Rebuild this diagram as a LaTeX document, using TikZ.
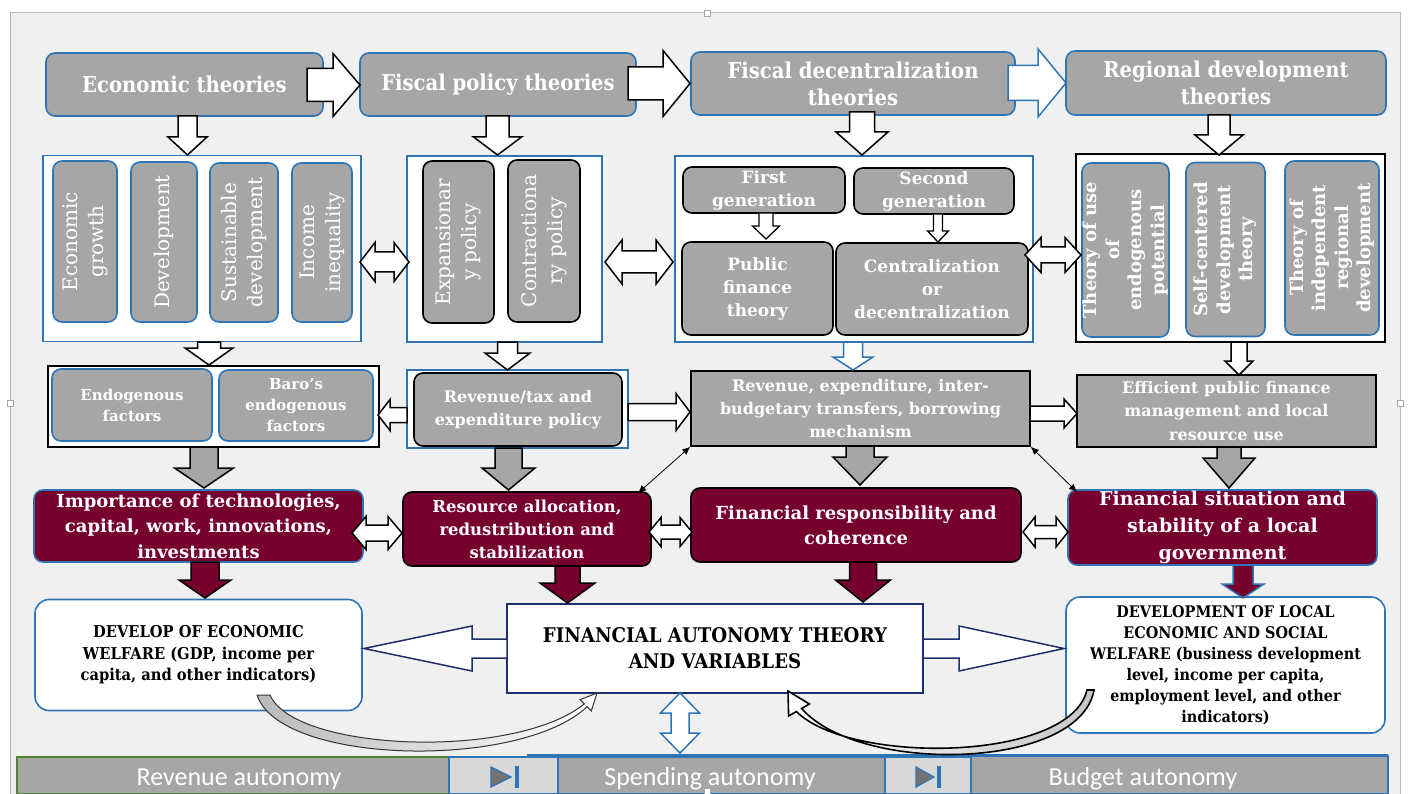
\documentclass[tikz,border=0pt]{standalone}
\usepackage{fontspec}
\setmainfont{DejaVu Serif}
\newfontfamily\dvc[FakeStretch=0.9]{DejaVu Serif}
\newfontfamily\carl{Carlito}
\usetikzlibrary{arrows.meta}
\definecolor{bblue}{RGB}{46,117,182}
\definecolor{boxgray}{RGB}{166,166,166}
\definecolor{maroonc}{RGB}{118,0,46}
\definecolor{navyc}{RGB}{28,48,110}
\definecolor{panelc}{RGB}{240,240,240}
\definecolor{cellc}{RGB}{216,216,216}
\definecolor{greenc}{RGB}{84,130,53}
\newcommand\fs[2]{\fontsize{#1}{#2}\selectfont}
% vertical block arrow: style, cx, ystart, yhead, ytip, shaft half, head half
\newcommand\varr[7]{\draw[#1] ({#2-#6},#3) -- ({#2-#6},#4) -- ({#2-#7},#4) -- (#2,#5) -- ({#2+#7},#4) -- ({#2+#6},#4) -- ({#2+#6},#3) -- cycle;}
% horizontal block arrow: style, cy, xstart, xhead, xtip, shaft half, head half
\newcommand\harr[7]{\draw[#1] (#3,{#2-#6}) -- (#4,{#2-#6}) -- (#4,{#2-#7}) -- (#5,#2) -- (#4,{#2+#7}) -- (#4,{#2+#6}) -- (#3,{#2+#6}) -- cycle;}
% horizontal double arrow: style, cy, xl, xr, headlen, shaft half, head half
\newcommand\hdarr[7]{\draw[#1] (#3,#2) -- ({#3+#5},{#2-#7}) -- ({#3+#5},{#2-#6}) -- ({#4-#5},{#2-#6}) -- ({#4-#5},{#2-#7}) -- (#4,#2) -- ({#4-#5},{#2+#7}) -- ({#4-#5},{#2+#6}) -- ({#3+#5},{#2+#6}) -- ({#3+#5},{#2+#7}) -- cycle;}
% vertical double arrow: style, cx, ytop, ybot, headlen, shaft half, head half
\newcommand\vdarr[7]{\draw[#1] (#2,#3) -- ({#2+#7},{#3+#5}) -- ({#2+#6},{#3+#5}) -- ({#2+#6},{#4-#5}) -- ({#2+#7},{#4-#5}) -- (#2,#4) -- ({#2-#7},{#4-#5}) -- ({#2-#6},{#4-#5}) -- ({#2-#6},{#3+#5}) -- ({#2-#7},{#3+#5}) -- cycle;}
\tikzset{
  bx/.style={inner sep=0pt, align=center, text=white},
  gbox/.style={bx, fill=boxgray, draw=bblue, line width=1.6pt, rounded corners=9pt},
  gboxk/.style={bx, fill=boxgray, draw=black, line width=1.6pt, rounded corners=9pt},
  gsq/.style={bx, fill=boxgray, draw=black, line width=1.6pt},
  mbox/.style={bx, fill=maroonc, draw=bblue, line width=1.6pt, rounded corners=9pt},
  mboxk/.style={bx, fill=maroonc, draw=black, line width=1.6pt, rounded corners=9pt},
  contb/.style={fill=white, draw=bblue, line width=1.6pt, inner sep=0pt},
  contk/.style={fill=white, draw=black, line width=2pt, inner sep=0pt},
  wbox/.style={fill=white, draw=bblue, line width=1.6pt, rounded corners=14pt, text=black, align=center, inner sep=0pt},
  ttl/.style={font=\dvc\bfseries\fs{21.8}{27}},
  vreg/.style={rotate=90, font=\fs{20}{26}},
  vbold/.style={rotate=90, font=\bfseries\fs{18}{22.5}},
  arw/.style={fill=white, draw=black, line width=1.5pt},
  arwb/.style={fill=white, draw=bblue, line width=1.5pt},
  arwn/.style={fill=white, draw=navyc, line width=1.5pt},
  arwg/.style={fill=boxgray, draw=black, line width=1.5pt},
  arwm/.style={fill=maroonc, draw=black, line width=1.5pt},
  arwmb/.style={fill=maroonc, draw=bblue, line width=1.5pt},
  thin/.style={draw=black, line width=0.8pt, {Latex[length=8pt,width=7pt]}-{Latex[length=8pt,width=7pt]}},
  handle/.style={fill=white, draw=gray!70, line width=0.6pt},
  seg/.style={fill=boxgray, draw=bblue, line width=1.5pt, inner sep=0pt},
  segtxt/.style={text=white, font=\carl\fs{26}{30}, anchor=base, inner sep=0pt},
}
\begin{document}
\begin{tikzpicture}[x=1pt,y=-1pt]
\useasboundingbox (0,0) rectangle (1408,794);
\fill[white] (0,0) rectangle (1408,794);
\draw[fill=panelc, draw=gray!55, line width=1pt] (10,13) rectangle (1400,800);

% ---------- row 1 ----------
\node[gbox, ttl, minimum width=277pt, minimum height=63pt] (econ) at (184.5,84.5) {Economic theories};
\node[gbox, ttl, minimum width=276pt, minimum height=63pt] (fisc) at (498,84.5) {Fiscal policy theories};
\node[gbox, ttl, minimum width=324pt, minimum height=63pt] (fdec) at (853,83.5) {Fiscal decentralization\\theories};
\node[gbox, ttl, minimum width=320pt, minimum height=64pt] (regd) at (1226,83) {Regional development\\theories};

% ---------- row 2 containers ----------
\node[contb, minimum width=318pt, minimum height=186pt] (contA) at (202,248.5) {};
\node[gbox, vreg, minimum width=161pt, minimum height=64pt] (a1) at (85,241.5) {Economic\\growth};
\node[gbox, vreg, minimum width=160pt, minimum height=66pt] (a2) at (164,242) {Development};
\node[gbox, vreg, minimum width=159pt, minimum height=68pt] (a3) at (244,242.5) {Sustainable\\development};
\node[gbox, vreg, minimum width=159pt, minimum height=60pt] (a4) at (322,242.5) {Income\\inequality};

\node[contb, minimum width=195pt, minimum height=186pt] (contB) at (504.5,249) {};
\node[gboxk, vreg, minimum width=162pt, minimum height=71pt] (b1) at (458.5,242) {Expansionar\\y policy};
\node[gboxk, vreg, minimum width=162pt, minimum height=72pt] (b2) at (544,241) {Contractiona\\ry policy};

\node[contb, minimum width=358pt, minimum height=186pt] (contC) at (854,249) {};
\node[gboxk, font=\bfseries\fs{17}{23}, minimum width=162pt, minimum height=46pt] (c1) at (764,190) {First\\generation};
\node[gboxk, font=\bfseries\fs{17}{23}, minimum width=160pt, minimum height=46pt] (c2) at (934,191) {Second\\generation};
\node[gboxk, font=\bfseries\fs{17}{23}, minimum width=151pt, minimum height=93pt] (c3) at (757.5,288.5) {Public\\finance\\theory};
\node[gboxk, font=\bfseries\fs{17}{23}, minimum width=192pt, minimum height=92pt] (c4) at (932,289) {Centralization\\or\\decentralization};
\varr{arw, line width=1.3pt}{766}{213}{226}{239}{7}{13.5}
\varr{arw, line width=1.3pt}{938}{214}{231}{242}{4.5}{10.5}

\node[contk, minimum width=309pt, minimum height=188pt] (contD) at (1230.5,248) {};
\node[gbox, vbold, minimum width=174pt, minimum height=87pt] (d1) at (1125.5,250) {Theory of use\\of\\endogenous\\potential};
\node[gbox, vbold, minimum width=174pt, minimum height=79pt] (d2) at (1225.5,249.5) {Self-centered\\development\\theory};
\node[gbox, vbold, minimum width=174pt, minimum height=94pt] (d3) at (1332,248) {Theory of\\independent\\regional\\development};

% ---------- row 3 ----------
\node[contk, minimum width=331pt, minimum height=81pt] (contE) at (213.5,406.5) {};
\node[gbox, font=\bfseries\fs{15}{21}, minimum width=160pt, minimum height=72pt] (e1) at (132,405) {Endogenous\\factors};
\node[gbox, font=\bfseries\fs{15}{21}, minimum width=154pt, minimum height=71pt] (e2) at (296,405.5) {Baro’s\\endogenous\\factors};
\node[contb, minimum width=221pt, minimum height=78pt] (contF) at (517.5,409) {};
\node[gboxk, font=\bfseries\fs{16}{23}, minimum width=208pt, minimum height=73pt] (f1) at (518,409.5) {Revenue/tax and\\expenditure policy};
\node[gsq, font=\bfseries\fs{16}{23}, minimum width=339pt, minimum height=75pt] (g1) at (860.5,408.5) {Revenue, expenditure, inter-\\budgetary transfers, borrowing\\mechanism};
\node[gsq, font=\bfseries\fs{16}{23.5}, minimum width=299pt, minimum height=72pt] (h1) at (1226.5,411) {Efficient public finance\\management and local\\resource use};

% ---------- row 4 ----------
\node[mbox, font=\bfseries\fs{18}{25.5}, minimum width=329pt, minimum height=72pt] (i1) at (198.5,526) {Importance of technologies,\\capital, work, innovations,\\investments};
\node[mboxk, font=\bfseries\fs{16.5}{23}, minimum width=248pt, minimum height=74pt] (j1) at (527,529) {Resource allocation,\\redustribution and\\stabilization};
\node[mboxk, font=\bfseries\fs{18}{25}, minimum width=330pt, minimum height=74pt] (k1) at (856,525) {Financial responsibility and\\coherence};
\node[mbox, font=\bfseries\fs{19}{27}, minimum width=309pt, minimum height=75pt] (l1) at (1222.5,527.5) {Financial situation and\\stability of a local\\government};

% ---------- row 5 ----------
\node[wbox, font=\dvc\bfseries\fs{16.3}{21.5}, minimum width=327pt, minimum height=111pt] (m1) at (198.5,655) {DEVELOP OF ECONOMIC\\WELFARE (GDP, income per\\capita, and other indicators)};
\node[fill=white, draw=navyc, line width=1.6pt, inner sep=0pt, align=center, font=\dvc\bfseries\fs{20.2}{26}, minimum width=416pt, minimum height=89pt] (n1) at (715,648.5) {FINANCIAL AUTONOMY THEORY\\AND VARIABLES};
\node[wbox, font=\dvc\bfseries\fs{16}{21}, minimum width=319pt, minimum height=136pt] (o1) at (1225.5,665) {DEVELOPMENT OF LOCAL\\ECONOMIC AND SOCIAL\\WELFARE (business development\\level, income per capita,\\employment level, and other\\indicators)};

% ---------- bottom bar ----------
\draw[draw=bblue, line width=1.5pt] (527,755) -- (1388,755);
\node[seg, draw=greenc, minimum width=432pt, minimum height=37pt] (rev) at (233,775.5) {};
\node[fill=cellc, draw=bblue, line width=1.5pt, minimum width=109pt, minimum height=37pt, inner sep=0pt] (cell1) at (503.5,775.5) {};
\node[seg, minimum width=327pt, minimum height=37pt] (spend) at (721.5,775.5) {};
\node[fill=cellc, draw=bblue, line width=1.5pt, minimum width=86pt, minimum height=37pt, inner sep=0pt] (cell2) at (928,775.5) {};
\node[seg, minimum width=417pt, minimum height=38pt] (budg) at (1179.5,775) {};
\node[segtxt] (revt) at (239,785) {Revenue autonomy};
\node[segtxt] (spendt) at (710,785) {Spending autonomy};
\node[segtxt] (budgt) at (1143,785) {Budget autonomy};
\draw[fill=gray!90!black, draw=bblue, line width=1.2pt] (491,767) -- (491,787) -- (511,777) -- cycle;
\fill[bblue] (515,766) rectangle (519,788);
\draw[fill=gray!90!black, draw=bblue, line width=1.2pt] (916,767) -- (916,787) -- (934,777) -- cycle;
\fill[bblue] (937,766) rectangle (941,788);

% ---------- block arrows ----------
\harr{arw}{85}{307}{333}{360}{16.5}{31.5}
\harr{arw}{83.5}{628}{663}{690}{16.5}{33}
\harr{arwb}{83}{1008}{1038}{1066}{17.5}{34}
\varr{arw}{187.5}{116}{137}{155}{9.5}{19.5}
\varr{arw}{497.5}{116}{137}{155}{11.5}{24}
\varr{arw}{862}{112}{132}{155}{12.5}{26}
\varr{arw}{1219}{115}{135}{155}{11}{24}
\hdarr{arw}{262}{360}{409}{15}{10}{19.5}
\hdarr{arw}{262}{605}{673}{17}{11}{22}
\hdarr{arw}{255}{1025}{1081}{16}{8}{17.5}
% row 2 -> 3
\varr{arw}{209}{342}{348}{365}{11.5}{24}
\varr{arw}{507.5}{342}{353}{370}{10}{22.5}
\varr{arwb}{853}{342}{357}{370}{9.5}{20}
\varr{arw}{1239}{342}{361}{375}{8}{14}
\harr{arw}{415}{407}{390}{378}{7.5}{15.5}
\harr{arw}{412}{628}{676}{690}{8.5}{18.5}
\harr{arw}{413.5}{1030}{1064}{1077}{7.5}{14.5}
% row 3 -> 4
\varr{arwg}{204}{447}{468}{488}{14}{29.5}
\varr{arwg}{508.5}{448}{468}{490}{13.5}{26.5}
\varr{arwg}{860}{446}{457}{485}{14}{27}
\varr{arwg}{1229}{447}{458}{488}{12}{26}
% row 4 double arrows
\hdarr{arw}{533}{352}{402}{14}{8}{16.5}
\hdarr{arw}{532}{649}{692}{12}{7}{14.5}
\hdarr{arw}{532}{1023}{1068}{12}{6.5}{15}
% thin double-headed connectors
\draw[thin] (g1.south west) -- (638,493);
\draw[thin] (g1.south east) -- (1077,492);
% row 4 -> 5
\varr{arwm}{205}{562}{580}{598}{14}{26}
\varr{arwm}{567.5}{566}{583}{603}{12.5}{27.5}
\varr{arwm}{863}{562}{580}{602}{13.5}{27.5}
\varr{arwmb}{1243}{565}{584}{598}{10}{21}
% row 5 big arrows
\harr{arwn}{648.5}{507}{472}{364}{9.5}{22.5}
\harr{arwn}{648.5}{923}{959}{1064}{9.5}{22.5}
\vdarr{arwb}{680}{693}{753}{20}{9}{19.5}

% curved arrows
\draw[draw=black!80, line width=1pt, left color=gray!55, right color=white]
  (257,695) .. controls (280,765) and (520,770) .. (587.1,706.7)
  -- (591.3,710.9) -- (597,693) -- (580.1,699.7) -- (584.3,703.9)
  .. controls (515,760) and (295,752) .. (270,695) -- cycle;
\draw[draw=black, line width=1.6pt, left color=white, right color=gray!45]
  (1094,690) .. controls (1080,770) and (860,775) .. (801.6,708.5)
  -- (809.4,704) -- (788,691) -- (788.6,716) -- (796.4,711.5)
  .. controls (850,765) and (1070,762) .. (1087,690) -- cycle;

% selection handles
\draw[handle] (704,10) rectangle (710,16);
\draw[handle] (7,400) rectangle (13,406);
\draw[handle] (1397,400) rectangle (1403,406);
\draw[handle] (704,788) rectangle (710,794);
\end{tikzpicture}
\end{document}
